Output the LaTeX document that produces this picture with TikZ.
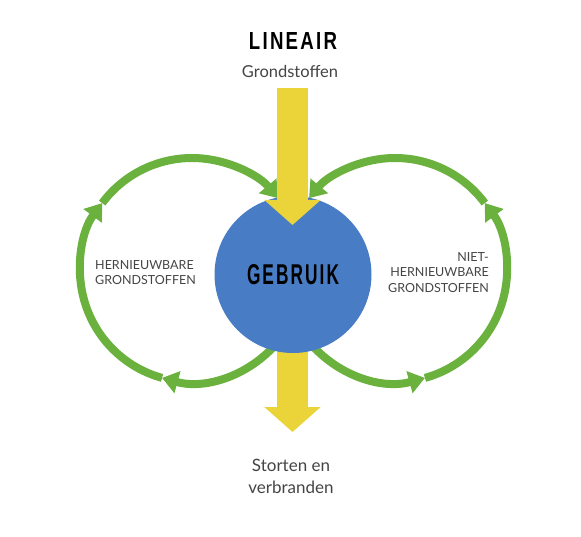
\documentclass[tikz,border=0pt]{standalone}
\usepackage{fontspec}
\usepackage{graphicx}
\usepackage{tikz}
\usetikzlibrary{arrows.meta}
\setmainfont{Lato}
\newfontfamily\headfont[LetterSpace=12]{Liberation Sans}
\definecolor{gebruikblue}{RGB}{72,124,196}
\definecolor{lineairyellow}{RGB}{234,212,58}
\definecolor{ringgreen}{RGB}{106,177,62}
\definecolor{labelgray}{RGB}{68,68,68}

\begin{document}
\begin{tikzpicture}[x=1pt,y=1pt,
  ring/.style={draw=ringgreen,line width=8pt,-{Triangle[width=22pt,length=16pt]}},
  flow/.style={draw=lineairyellow,line width=31pt,-{Triangle[width=55pt,length=25pt]}},
  small/.style={text=labelgray,inner sep=0pt,font=\fontsize{12.5}{15.5}\selectfont}]
\useasboundingbox (0,0) rectangle (581,536);
\node[inner sep=0pt] (lineair) at (293,495) {\resizebox{88pt}{17pt}{\headfont\bfseries LINEAIR}};
\node[anchor=base,inner sep=0pt,font=\fontsize{16.5}{20}\selectfont,text=labelgray] (grond) at (290,458) {Grondstoffen};
\coordinate (L) at (192,266);
\coordinate (R) at (395,266);
\coordinate (intop) at (292.5,448);
\coordinate (intip) at (292.5,311);
\coordinate (outtip) at (292.5,104);
% lower arcs, behind the circle
\draw[ring] (L) ++(-35:112) arc[start angle=-35,end angle=-105.5,radius=112];
\draw[ring] (R) ++(215:112) arc[start angle=215,end angle=285.5,radius=112];
\draw[flow] (292.5,261.5) -- (outtip);
\node[circle,fill=gebruikblue,minimum size=157pt,inner sep=0pt] (gebruik) at (293,261.5) {};
\node[inner sep=0pt] at (gebruik.center) {\resizebox{92pt}{20pt}{\headfont\bfseries GEBRUIK}};
% outer arcs
\draw[ring] (L) ++(254.5:112) arc[start angle=254.5,end angle=143.3,radius=112];
\draw[ring] (L) ++(143.3:112) arc[start angle=143.3,end angle=39.9,radius=112];
\draw[ring] (R) ++(-74.5:112) arc[start angle=-74.5,end angle=36.7,radius=112];
\draw[ring] (R) ++(36.7:112) arc[start angle=36.7,end angle=140.1,radius=112];
\draw[flow] (intop) -- (intip);
\node[small,anchor=north west,align=left] (hern) at (95,276) {HERNIEUWBARE\\GRONDSTOFFEN};
\node[small,anchor=north east,align=right] (niet) at (489,284) {NIET-\\HERNIEUWBARE\\GRONDSTOFFEN};
\node[anchor=north,align=center,inner sep=0pt,font=\fontsize{17}{22}\selectfont,text=labelgray] (storten) at (291,77) {Storten en\\verbranden};
\end{tikzpicture}
\end{document}
